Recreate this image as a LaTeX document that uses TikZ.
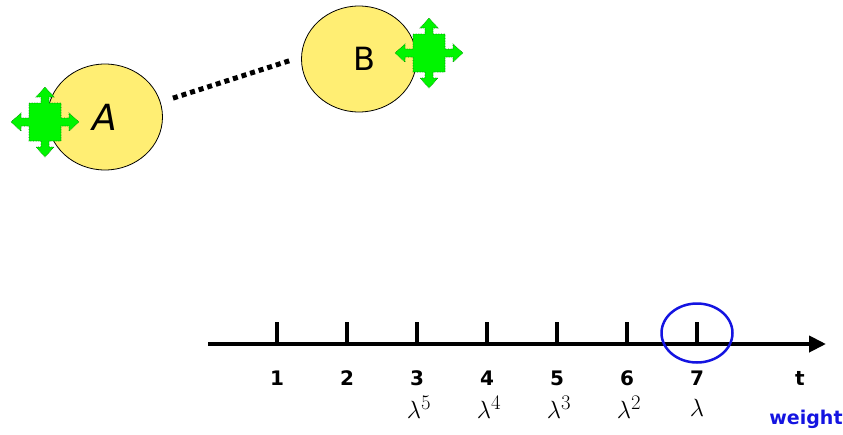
\documentclass[tikz,border=0pt]{standalone}
\usepackage{amsmath}
\usepackage{fontspec}
\setmainfont{DejaVu Sans}
\usepackage{tikz}
\usetikzlibrary{arrows.meta,calc,shapes.geometric}

\definecolor{ballyellow}{RGB}{255,238,115}
\definecolor{movegreen}{RGB}{0,245,0}
\definecolor{markblue}{RGB}{20,20,225}

\begin{document}
\begin{tikzpicture}[x=1pt,y=-1pt,>={Triangle[length=17pt,width=16pt]}]
			\tikzstyle{ball}=[ellipse, draw=black, line width=0.8pt, fill=ballyellow, inner sep=0pt, minimum width=115pt, minimum height=106pt]
			\tikzstyle{link}=[line width=5pt, dash pattern=on 5pt off 4pt]
			\tikzstyle{timeaxis}=[line width=4pt, ->]
			\tikzstyle{tick}=[line width=4pt]
			\tikzstyle{num}=[font=\fontsize{20}{22}\selectfont\bfseries, inner sep=0pt]
			\tikzstyle{wt}=[font=\fontsize{28}{30}\selectfont, inner sep=0pt]

			\tikzset{moveicon/.pic={
				\fill [movegreen, draw=movegreen!55!black, densely dotted, line width=0.6pt]
					(16,-4) -- (24,-4) -- (24,-9) -- (34,0) -- (24,9) -- (24,4) -- (16,4) -- (16,19)
					-- (4,19) -- (4,25) -- (9,25) -- (0,35) -- (-9,25) -- (-4,25) -- (-4,19) -- (-16,19)
					-- (-16,4) -- (-24,4) -- (-24,9) -- (-34,0) -- (-24,-9) -- (-24,-4) -- (-16,-4) -- (-16,-19)
					-- (-4,-19) -- (-4,-25) -- (-9,-25) -- (0,-35) -- (9,-25) -- (4,-25) -- (4,-19) -- (16,-19) -- cycle;
			}}

			\useasboundingbox (0,0) rectangle (843,434);

			\node (A) [ball] at (105,117) {\fontsize{36}{38}\selectfont\itshape A};
			\node (B) [ball] at (359,59) {\fontsize{32}{34}\selectfont\hspace{10pt}B};

			\draw [link] (A.15) -- (B.178) [shorten <=13pt, shorten >=11pt];

			\pic at (45,122) {moveicon};
			\pic at (429,53) {moveicon};

			% time line
			\coordinate (t0) at (208,344);
			\coordinate (tend) at (826,344);
			\draw [timeaxis] (t0) -- (tend);

			\foreach \i in {1,...,7}
			{
				\coordinate (k\i) at ($(t0) + (69+70*\i-70, 0)$);
				\draw [tick] (k\i) -- ++(0,-22);
				\node (n\i) [num] at ($(k\i) + (0,34)$) {\i};
			}

			\foreach \i/\p in {3/5,4/4,5/3,6/2}
			{
				\node (w\i) [wt] at ($(k\i) + (2,63)$) {$\lambda^{\p}$};
			}
			\node (w7) [wt] at ($(k7) + (0,64)$) {$\lambda$};

			\node (nt) [num] at (800,378) {t};
			\node (weight) [num, text=markblue, font=\fontsize{19}{21}\selectfont\bfseries] at (806,419) {weight};

			\node (hl) [ellipse, draw=markblue, line width=2.5pt, inner sep=0pt, minimum width=71pt, minimum height=59pt] at ($(k7) + (0,-11)$) {};
		\end{tikzpicture}
\end{document}
